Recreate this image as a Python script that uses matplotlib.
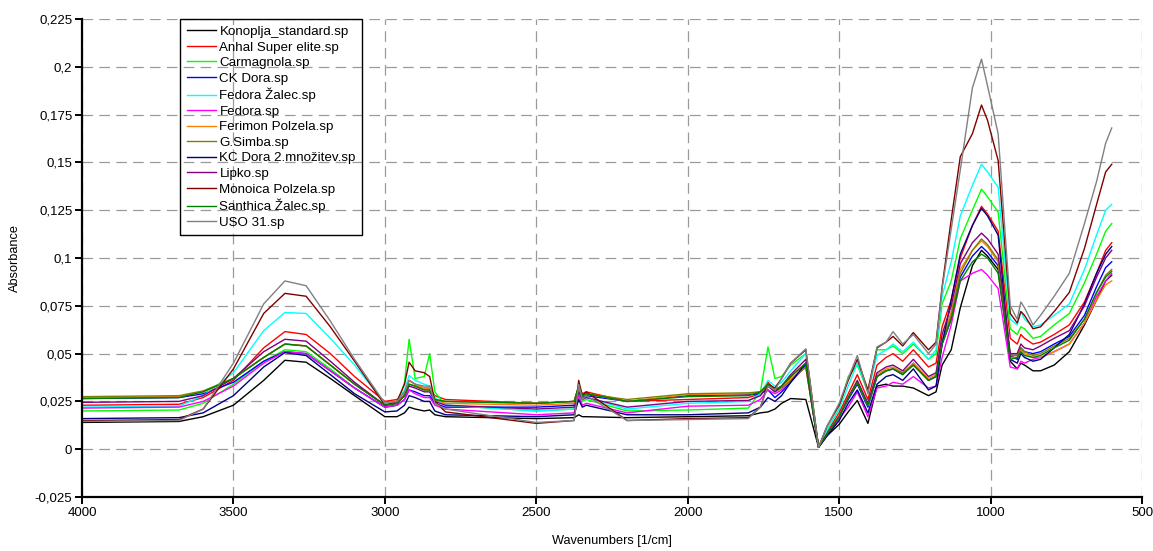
"""
FTIR absorbance spectra of hemp samples (13 .sp files), overlaid on one axis.
Values were read off the reference picture and are stored in milli-absorbance.
"""

import matplotlib
matplotlib.use("Agg")
import matplotlib.pyplot as plt
from matplotlib.ticker import FuncFormatter, MultipleLocator

plt.rcParams["font.family"] = ["Liberation Sans", "DejaVu Sans"]

# ----------------------------------------------------------------------
# Data (wavenumber in 1/cm, absorbance in 1e-3 units)
# ----------------------------------------------------------------------
wavenumbers = [4000, 3680, 3600, 3500, 3400, 3330, 3260, 3180, 3100, 3000,
               2960, 2935, 2920, 2900, 2870, 2852, 2835, 2800, 2500, 2375,
               2360, 2348, 2335, 2200, 2000, 1800, 1760, 1735, 1712, 1690,
               1660, 1610, 1568, 1540, 1500, 1470, 1440, 1405, 1375, 1345,
               1322, 1290, 1255, 1205, 1180, 1160, 1130, 1100, 1060, 1030,
               1010, 975, 935, 912, 900, 888, 860, 835, 790, 740,
               690, 650, 620, 600]

konoplja_standard = [14, 14.5, 17, 23, 36, 46.5, 45.5, 37, 28, 17,
                     17, 19, 22, 21, 20, 20.5, 18, 17, 16, 16.5,
                     18, 17, 17, 16.5, 17, 17.5, 19, 19.5, 21, 24,
                     26.5, 26, 1, 7, 13, 19.5, 25.5, 13.5, 33, 34,
                     33, 33, 32, 28, 30, 44, 52, 74, 96, 104,
                     101, 94, 46, 42, 45, 44, 41, 41, 44, 51,
                     65, 78, 88, 91]
anhal_super_elite = [23, 23.5, 27, 36, 53, 61.5, 60, 50, 38, 25,
                     26, 30, 36, 34, 32, 32, 28, 26, 24, 25,
                     33, 29, 30, 25, 26, 27, 29, 35, 31, 33,
                     38, 45, 1, 9, 19, 29, 39, 26, 44, 48,
                     50, 46, 52, 43, 45, 64, 78, 100, 117, 127,
                     123, 114, 58, 55, 60, 58, 55, 56, 60, 65,
                     77, 92, 104, 108]
carmagnola = [20, 20.5, 24, 34, 46, 52, 51, 42, 32, 22,
              23, 35, 57.5, 37, 38, 50, 30, 23, 20, 21,
              29, 25, 26, 20, 20.5, 21.5, 30, 53.5, 37, 38,
              44, 50, 1, 10, 21, 38, 44, 30, 52, 52,
              54, 50, 55, 47, 50, 76, 88, 110, 125, 136,
              132, 124, 63, 60, 64, 63, 58, 59, 65, 71,
              87, 102, 114, 118]
ck_dora = [26.5, 27, 29, 35, 46, 51, 50, 41, 32, 22,
           23, 26, 31, 30, 28, 28, 24, 22, 22, 23,
           31, 27, 28, 25, 28, 28.5, 29, 31, 27, 30,
           35, 44, 1, 8, 17, 26, 34, 22, 38, 41,
           42, 39, 45, 36, 38, 55, 68, 90, 101, 106,
           103, 96, 49, 47, 53, 51, 50, 51, 55, 59,
           70, 85, 95, 98]
fedora_zalec = [22, 22.5, 28, 40, 62, 71.5, 71, 58, 44, 24,
                25, 31, 38.5, 36, 34, 33, 27, 23, 20, 21,
                32, 26, 27, 21, 24, 25, 29, 36, 33, 35,
                41, 50, 1, 10, 21, 33, 45, 30, 49, 52,
                55, 51, 56, 47, 52, 80, 98, 122, 138, 149,
                145, 137, 68, 65, 72, 68, 64, 65, 70, 76,
                94, 112, 125, 128]
fedora = [21.5, 22, 25, 33, 45, 51, 50, 41, 32, 22,
          23, 26, 31, 29, 27, 27, 23, 21, 18, 19,
          28, 23, 24, 19, 22.5, 23, 26, 31, 29, 31,
          36, 43, 1, 7, 16, 22, 30, 17, 32, 33,
          35, 34, 38, 32, 33, 48, 65, 88, 92, 94,
          91, 84, 43, 42, 46, 45, 47, 48, 51, 55,
          66, 80, 88, 92]
ferimon_polzela = [27, 27.5, 30, 37, 48, 55, 54, 44, 34, 23,
                   24, 29, 36, 34, 32, 32, 26, 24, 23, 24,
                   32, 28, 29, 25, 28.5, 29, 30, 34, 31, 33,
                   37, 43, 1, 8, 17, 27, 35, 23, 39, 42,
                   43, 40, 45, 37, 39, 57, 72, 94, 104, 109,
                   106, 98, 48, 48, 52, 50, 48, 48, 51, 55,
                   66, 78, 86, 88]
g_simba = [27.5, 28, 30.5, 37, 48, 55, 54, 44, 34, 23,
           24, 28, 34, 33, 31, 31, 26, 25, 24, 25,
           33, 28, 29, 26, 29, 29.5, 30, 33, 30, 32,
           36, 43, 1, 8, 17, 27, 35, 23, 38, 41,
           42, 40, 44, 36, 38, 56, 70, 92, 104, 110,
           107, 99, 49, 49, 53, 51, 49, 50, 54, 58,
           68, 82, 91, 94]
kc_dora_2 = [16, 16.5, 19, 28, 43, 50.5, 49, 39, 29, 19.5,
             20, 23, 28, 27, 25, 25, 20, 18, 17, 18,
             26, 22, 23, 18, 18, 19, 22, 27, 25, 28,
             35, 45, 1, 7, 15, 24, 31, 19, 34, 38,
             39, 36, 42, 31, 33, 55, 78, 102, 117, 126,
             122, 112, 47, 45, 50, 48, 46, 47, 53, 60,
             76, 92, 102, 106]
lipko = [24.5, 25, 28, 37, 51, 57.5, 56.5, 46, 35, 23,
         24, 28, 33, 32, 30, 30, 25, 23, 21, 22,
         30, 26, 27, 22, 25, 25.5, 28, 33, 30, 33,
         39, 47, 1, 8, 17, 27, 36, 24, 40, 43,
         44, 41, 47, 38, 40, 60, 75, 97, 108, 113,
         110, 102, 50, 50, 55, 53, 52, 54, 58, 62,
         75, 90, 100, 104]
monoica_polzela = [15, 15.5, 21, 42, 71, 81.5, 80, 64, 46, 23,
                   25, 34, 45.5, 41, 40, 38, 25, 19.5, 13.5, 15,
                   36, 28, 30, 15, 16, 16.5, 22, 34, 32, 37,
                   45, 52, 1, 12, 23, 36, 47, 31, 53, 56,
                   59, 54, 61, 52, 56, 85, 120, 153, 165, 180,
                   172, 151, 71, 66, 72, 70, 63, 64, 72, 82,
                   105, 128, 145, 149]
santhica_zalec = [26.5, 27, 30, 37, 48, 55, 54, 44, 34, 23,
                  24, 28, 34, 33, 31, 31, 26, 25, 24, 25,
                  33, 28, 29, 25, 27.5, 28, 30, 34, 31, 33,
                  38, 45, 1, 8, 17, 27, 35, 23, 38, 41,
                  42, 39, 44, 36, 38, 55, 68, 88, 98, 102,
                  100, 92, 47, 48, 51, 49, 48, 49, 53, 57,
                  68, 82, 90, 93]
uso_31 = [14.5, 15, 21, 45, 76, 88, 85.5, 67, 47, 24,
          25, 30, 36, 34, 33, 33, 24, 21, 14, 15,
          34, 26, 28, 15, 15.5, 16, 22, 33, 31, 37,
          45, 52.5, 1, 12, 24, 37, 49, 29, 53.5, 56,
          61.5, 55, 60, 50, 55, 84, 115, 146, 189, 204,
          190, 165, 75, 68, 77, 74, 65, 70, 80, 92,
          118, 140, 160, 168]

labels = ["Konoplja_standard.sp", "Anhal Super elite.sp", "Carmagnola.sp",
          "CK Dora.sp", "Fedora Žalec.sp", "Fedora.sp", "Ferimon Polzela.sp",
          "G.Simba.sp", "KC Dora 2.množitev.sp", "Lipko.sp",
          "Monoica Polzela.sp", "Santhica Žalec.sp", "USO 31.sp"]
spectra = [konoplja_standard, anhal_super_elite, carmagnola, ck_dora,
           fedora_zalec, fedora, ferimon_polzela, g_simba, kc_dora_2, lipko,
           monoica_polzela, santhica_zalec, uso_31]
colors = ["#000000", "#ff0000", "#00ff00", "#0000ff", "#00ffff", "#ff00ff",
          "#ff8000", "#808000", "#000080", "#800080", "#800000", "#008000",
          "#808080"]


def comma_decimal(v, pos):
    s = f"{v:.3f}".rstrip("0").rstrip(".")
    if s in ("-0", ""):
        s = "0"
    return s.replace(".", ",")


def plot_spectra(outfile):
    fig = plt.figure(figsize=(11.53, 5.51), dpi=100)
    ax = fig.add_axes([82 / 1153, 54 / 551, 1060 / 1153, 478 / 551])

    for label, values, color in zip(labels, spectra, colors):
        ax.plot(wavenumbers, [v / 1000 for v in values], color=color,
                lw=1.0, label=label)

    ax.set_xlim(4000, 500)
    ax.set_ylim(-0.025, 0.225)
    ax.xaxis.set_major_locator(MultipleLocator(500))
    ax.yaxis.set_major_locator(MultipleLocator(0.025))
    ax.yaxis.set_major_formatter(FuncFormatter(comma_decimal))

    ax.grid(True, color="#9a9a9a", linestyle=(0, (8.5, 5)), linewidth=0.9)
    for side in ("top", "right"):
        ax.spines[side].set_visible(False)
    for side in ("left", "bottom"):
        ax.spines[side].set_linewidth(1.6)
    ax.tick_params(direction="out", length=5, width=1.4, labelsize=9.5,
                   pad=2)

    ax.set_xlabel("Wavenumbers [1/cm]", fontsize=9.2, labelpad=12)
    ax.set_ylabel("Absorbance", fontsize=9.2, labelpad=10)

    leg = ax.legend(loc="upper left", bbox_to_anchor=(0.0925, 1.0),
                    borderaxespad=0, fontsize=9.6, frameon=True,
                    fancybox=False, handlelength=2.2, handletextpad=0.25,
                    labelspacing=0.24, borderpad=0.5)
    frame = leg.get_frame()
    frame.set_facecolor("none")
    frame.set_edgecolor("black")
    frame.set_alpha(None)
    frame.set_linewidth(1.0)

    fig.savefig(outfile, dpi=100)
    plt.close(fig)


if __name__ == "__main__":
    plot_spectra("out.png")
